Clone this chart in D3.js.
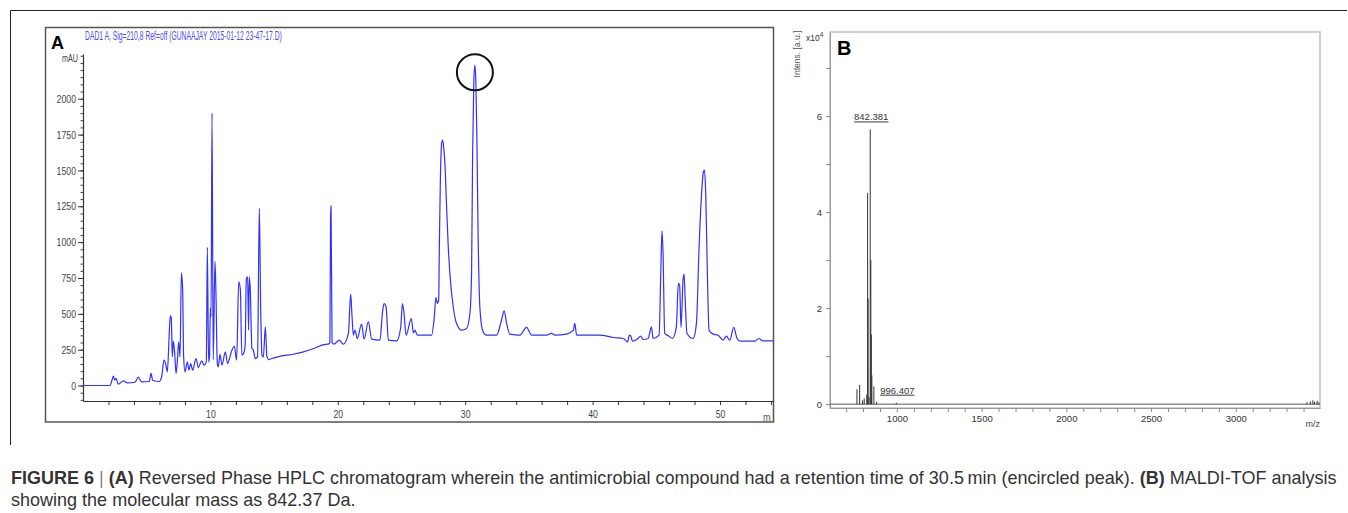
<!DOCTYPE html>
<html>
<head>
<meta charset="utf-8">
<script src="https://cdn.jsdelivr.net/npm/d3@7"></script>
<style>
html, body { margin: 0; padding: 0; background: #fff; }
svg { display: block; }
text { font-family: "Liberation Sans", Arial, sans-serif; }
</style>
</head>
<body>
<svg id="fig" width="1348" height="513"></svg>
<script>
// ---- panel A : RP-HPLC trace, [time (min), absorbance (mAU)]
const hplcTrace = [
  [0, 0], [2.12, 0], [2.28, 38], [2.38, 65], [2.49, 38], [2.59, 50], [2.77, 9], [3.17, 32], [3.48, 18],
  [4.08, 23], [4.34, 58], [4.6, 26], [5.2, 28], [5.34, 84], [5.47, 37], [5.99, 28], [6.17, 60], [6.36, 177],
  [6.51, 142], [6.62, 95], [6.78, 386], [6.85, 486], [6.93, 474], [7.01, 200], [7.09, 309], [7.2, 223],
  [7.3, 84], [7.4, 165], [7.51, 304], [7.62, 200], [7.72, 786], [7.82, 677], [7.9, 200], [8.01, 95],
  [8.19, 165], [8.32, 107], [8.45, 153], [8.61, 107], [8.87, 188], [9.05, 126], [9.32, 172], [9.5, 142],
  [9.68, 165], [9.76, 963], [9.86, 165], [9.93, 200], [10.0, 540], [10.05, 480], [10.13, 1900], [10.22, 180],
  [10.36, 867], [10.44, 626], [10.54, 153], [10.62, 130], [10.75, 218], [10.91, 142], [11.17, 235],
  [11.35, 153], [11.67, 242], [11.88, 274], [12.06, 177], [12.22, 723], [12.35, 670], [12.47, 211],
  [12.63, 228], [12.73, 286], [12.82, 747], [12.92, 758], [13.0, 386], [13.05, 758], [13.13, 670],
  [13.26, 258], [13.37, 247], [13.52, 188], [13.7, 200], [13.84, 1235], [13.95, 525], [14.05, 211],
  [14.16, 200], [14.31, 409], [14.44, 200], [14.57, 181], [14.9, 190], [15.5, 205], [16.5, 218],
  [17.3, 235], [18.1, 258], [18.9, 285], [19.3, 290], [19.38, 300], [19.43, 1170], [19.47, 1253],
  [19.55, 300], [19.7, 288], [20.12, 316], [20.43, 288], [20.83, 363], [21.01, 637], [21.12, 479],
  [21.22, 351], [21.35, 386], [21.53, 328], [21.87, 428], [22.06, 323], [22.4, 444], [22.66, 323],
  [23.31, 316], [23.5, 502], [23.63, 572], [23.79, 549], [23.97, 316], [24.62, 311], [24.94, 405],
  [25.07, 572], [25.2, 502], [25.36, 351], [25.77, 467], [25.93, 367], [26.06, 386], [26.24, 351],
  [27.37, 351], [27.55, 456], [27.71, 614], [27.81, 572], [27.92, 595], [27.97, 967], [28.05, 1432],
  [28.15, 1689], [28.23, 1712], [28.33, 1642], [28.41, 1549], [28.54, 1246], [28.67, 967], [28.86, 712],
  [29.06, 549], [29.32, 433], [29.72, 386], [30.11, 398], [30.37, 502], [30.5, 781], [30.58, 1595],
  [30.68, 2130], [30.76, 2235], [30.84, 2107], [30.92, 1712], [31.02, 1014], [31.15, 549], [31.36, 386],
  [31.67, 351], [32.46, 351], [32.85, 456], [33.06, 521], [33.25, 433], [33.51, 358], [34.29, 351],
  [34.82, 405], [35.21, 351], [36.39, 351], [36.78, 363], [37.04, 351], [37.96, 358], [38.49, 386],
  [38.6, 433], [38.75, 351], [40.58, 351], [41.63, 335], [42.41, 328], [42.75, 304], [42.88, 351],
  [43.0, 344], [43.13, 309], [43.57, 328], [43.76, 344], [43.97, 321], [44.36, 328], [44.62, 409],
  [44.75, 328], [45.22, 351], [45.35, 781], [45.45, 1079], [45.53, 921], [45.66, 363], [46.0, 344],
  [46.26, 328], [46.57, 405], [46.73, 712], [46.83, 700], [46.94, 405], [47.1, 735], [47.18, 777],
  [47.28, 572], [47.41, 363], [47.89, 328], [48.15, 433], [48.36, 967], [48.54, 1316], [48.7, 1491],
  [48.78, 1502], [48.88, 1340], [49.01, 781], [49.14, 386], [49.46, 358], [49.85, 351], [50.24, 316],
  [50.5, 344], [50.77, 316], [51.08, 405], [51.34, 328], [51.6, 309], [52.73, 309], [53.04, 328],
  [53.38, 311], [54.17, 311]
];
const hplcYTicks = [0, 250, 500, 750, 1000, 1250, 1500, 1750, 2000];
const hplcXLabels = [10, 20, 30, 40, 50];
const encircledPeak = [30.76, 2185];
const hplcTitle = 'DAD1 A, Sig=210,8 Ref=off (GUNAAJAY 2015-01-12 23-47-17.D)';

// ---- panel B : MALDI-TOF sticks (m/z, intensity x10^4)
const msMass = [764, 780, 797, 807, 822, 827, 830, 835, 842.381, 846, 849, 852, 864, 880, 996.407,
  3420, 3440, 3455, 3465, 3480, 3490];
const msIntens = [0.31, 0.40, 0.08, 0.12, 0.2, 4.4, 2.2, 0.15, 5.72, 3.0, 1.45, 0.6, 0.37, 0.05, 0.03,
  0.04, 0.06, 0.08, 0.05, 0.07, 0.04];
const msLabelMass = [842.381, 996.407];
const msLabelIntens = [5.72, 0.03];
const msXLabels = [1000, 1500, 2000, 2500, 3000];
const msYLabels = [0, 2, 4, 6];

const captionLine1 = [
  ['FIGURE 6', 700], [' | ', 300], ['(A)', 700],
  [' Reversed Phase HPLC chromatogram wherein the antimicrobial compound had a retention time of 30.5\u2009min (encircled peak). ', 400],
  ['(B)', 700], [' MALDI-TOF analysis', 400]
];
const captionLine2 = 'showing the molecular mass as 842.37 Da.';

const svg = d3.select('#fig');

// squeeze text horizontally around its own x,y (the pdf fonts are condensed)
function squeeze(sel, k) {
  sel.each(function() {
    const t = d3.select(this);
    const x = +t.attr('x') || 0;
    const y = +t.attr('y') || 0;
    t.attr('transform', `translate(${x},${y}) scale(${k},1) translate(${-x},${-y})`);
  });
}
function fitWidth(sel, w) {
  const cur = sel.node().getComputedTextLength();
  squeeze(sel, w / cur);
  return w / cur;
}

// outer figure frame
svg.append('path')
  .attr('d', 'M10.5,445 L10.5,10.5 L1347,10.5')
  .attr('fill', 'none').attr('stroke', '#222').attr('stroke-width', 1);

// ================= panel A =================
const xA = d3.scaleLinear().domain([0, 54.2]).range([83, 773.5]);
const yA = d3.scaleLinear().domain([-108, 2312]).range([401, 54]);

const $a = svg.append('g').attr('class', 'panel-a');
svg.append('defs').append('clipPath').attr('id', 'clipA')
  .append('rect').attr('x', 46).attr('y', 28).attr('width', 727).attr('height', 393);

$a.append('rect')
  .attr('x', 45.5).attr('y', 27.5).attr('width', 728).attr('height', 394.5)
  .attr('fill', 'none').attr('stroke', '#555').attr('stroke-width', 1.5);

// y axis: minor every 50, labelled every 250
$a.append('g')
  .attr('transform', 'translate(83,0)')
  .call(d3.axisLeft(yA).tickValues(d3.range(-100, 2301, 50)).tickSize(2.5).tickFormat('').tickSizeOuter(0))
  .call(g => g.selectAll('line').attr('stroke', '#444'))
  .call(g => g.select('.domain').remove());
const $ay = $a.append('g')
  .attr('transform', 'translate(83,0)')
  .call(d3.axisLeft(yA).tickValues(hplcYTicks).tickSize(5).tickPadding(2)
    .tickFormat(d => String(d)).tickSizeOuter(0));
$ay.select('.domain').attr('stroke', '#333').attr('stroke-width', 1.2);
$ay.selectAll('line').attr('stroke', '#333');
$ay.selectAll('text').attr('font-size', 11.5).attr('fill', '#444')
  .attr('font-family', '"Liberation Sans", Arial, sans-serif');
squeeze($ay.selectAll('text'), 0.76);

const $ax = $a.append('g')
  .attr('transform', 'translate(0,401)')
  .call(d3.axisBottom(xA).tickValues(d3.range(2, 55, 2)).tickSize(4).tickPadding(5)
    .tickFormat(d => hplcXLabels.includes(d) ? d : '').tickSizeOuter(0));
$ax.select('.domain').attr('stroke', '#333').attr('stroke-width', 1.2);
$ax.selectAll('line').attr('stroke', '#333');
$ax.selectAll('text').attr('font-size', 11.5).attr('fill', '#444')
  .attr('font-family', '"Liberation Sans", Arial, sans-serif')
  .attr('transform', 'scale(0.76,1)');

$a.append('text')
  .attr('x', 763).attr('y', 421).attr('font-size', 11).attr('fill', '#555')
  .attr('clip-path', 'url(#clipA)')
  .text('min').call(s => squeeze(s, 0.8));
$a.append('text')
  .attr('x', 78).attr('y', 62).attr('text-anchor', 'end')
  .attr('font-size', 10).attr('fill', '#444')
  .text('mAU').call(s => squeeze(s, 0.72));

// the chromatogram
$a.append('path')
  .datum(hplcTrace)
  .attr('clip-path', 'url(#clipA)')
  .attr('fill', 'none')
  .attr('stroke', '#3030ff')
  .attr('stroke-width', 1.2)
  .attr('stroke-linejoin', 'round')
  .attr('d', d3.line().x(d => xA(d[0])).y(d => yA(d[1])).curve(d3.curveMonotoneX));

$a.append('circle')
  .attr('cx', xA(encircledPeak[0])).attr('cy', yA(encircledPeak[1])).attr('r', 18)
  .attr('fill', 'none').attr('stroke', '#111').attr('stroke-width', 2);

const $title = $a.append('text')
  .attr('x', 85).attr('y', 40).attr('font-size', 12).attr('fill', '#4a4af0')
  .text(hplcTitle);
fitWidth($title, 197);

$a.append('text')
  .attr('x', 51).attr('y', 48.5).attr('font-size', 18).attr('font-weight', 700).attr('fill', '#000')
  .text('A');

// ================= panel B =================
const xB = d3.scaleLinear().domain([605, 3497]).range([830, 1320]);
const yB = d3.scaleLinear().domain([-0.08, 7.75]).range([408, 32]);
const $b = svg.append('g').attr('class', 'panel-b');

$b.append('rect')
  .attr('x', 830).attr('y', 32).attr('width', 490).attr('height', 376)
  .attr('fill', 'none').attr('stroke', '#c4c4c4').attr('stroke-width', 1.6);

const $by = $b.append('g')
  .attr('transform', 'translate(830,0)')
  .call(d3.axisLeft(yB).tickValues(d3.range(0, 8)).tickSize(4).tickPadding(4)
    .tickFormat(d => msYLabels.includes(d) ? d : '').tickSizeOuter(0));
$by.select('.domain').attr('stroke', '#999');
$by.selectAll('line').attr('stroke', '#888');
$by.selectAll('text').attr('font-size', 9.5).attr('fill', '#333')
  .attr('font-family', '"Liberation Sans", Arial, sans-serif');

const $bx = $b.append('g')
  .attr('transform', 'translate(0,408)')
  .call(d3.axisBottom(xB).tickValues(d3.range(700, 3500, 100)).tickSize(4).tickPadding(3)
    .tickFormat(d => msXLabels.includes(d) ? d : '').tickSizeOuter(0));
$bx.select('.domain').attr('stroke', '#999');
$bx.selectAll('line').attr('stroke', '#888');
$bx.selectAll('text').attr('font-size', 9.5).attr('fill', '#333')
  .attr('font-family', '"Liberation Sans", Arial, sans-serif');

// zero line of the spectrum
$b.append('line')
  .attr('x1', xB(605)).attr('x2', xB(3497)).attr('y1', yB(0)).attr('y2', yB(0))
  .attr('stroke', '#555').attr('stroke-width', 1);

$b.selectAll('line.stick')
  .data(msMass)
  .join('line')
  .attr('class', 'stick')
  .attr('x1', d => xB(d)).attr('x2', d => xB(d))
  .attr('y1', yB(0)).attr('y2', (d, i) => yB(msIntens[i]))
  .attr('stroke', '#333').attr('stroke-width', 1);

$b.selectAll('text.peak')
  .data(msLabelMass)
  .join('text')
  .attr('class', 'peak')
  .attr('x', d => xB(d) + 1)
  .attr('y', (d, i) => yB(msLabelIntens[i]) - 9)
  .attr('text-anchor', 'middle')
  .attr('font-size', 9.5).attr('fill', '#333')
  .style('text-decoration', 'underline')
  .text(d => d3.format('.3f')(d));

$b.append('text')
  .attr('transform', 'translate(800,54) rotate(-90)')
  .attr('text-anchor', 'middle').attr('font-size', 8.5).attr('fill', '#555')
  .text('Intens. [a.u.]');
const $mult = $b.append('text')
  .attr('x', 806).attr('y', 41).attr('font-size', 8.5).attr('fill', '#333');
$mult.append('tspan').text('x10');
$mult.append('tspan').attr('dy', -4).attr('font-size', 6.5).text('4');

$b.append('text')
  .attr('x', 1320).attr('y', 427).attr('text-anchor', 'end')
  .attr('font-size', 9).attr('fill', '#444')
  .text('m/z');

$b.append('text')
  .attr('x', 837).attr('y', 55).attr('font-size', 20).attr('font-weight', 700).attr('fill', '#000')
  .text('B');

// ================= caption =================
const $cap1 = svg.append('text')
  .attr('x', 11).attr('y', 484).attr('font-size', 17.5).attr('fill', '#333');
$cap1.selectAll('tspan')
  .data(captionLine1)
  .join('tspan')
  .attr('font-weight', d => d[1])
  .attr('fill', d => d[1] === 300 ? '#888' : '#333')
  .text(d => d[0]);
const k = fitWidth($cap1, 1327);

const $cap2 = svg.append('text')
  .attr('x', 11).attr('y', 506).attr('font-size', 17.5).attr('fill', '#333')
  .text(captionLine2);
squeeze($cap2, k);
</script>
</body>
</html>
